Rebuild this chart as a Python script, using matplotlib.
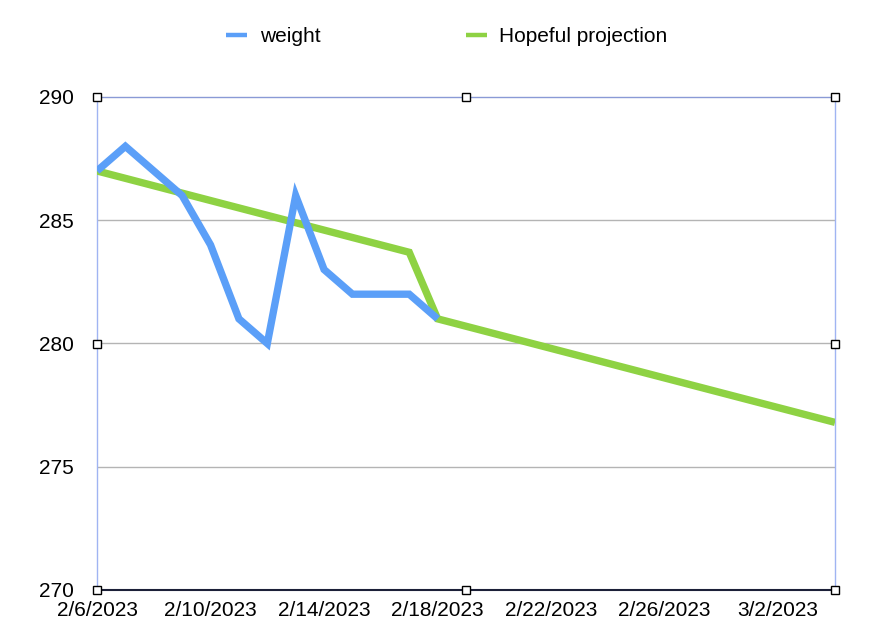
import datetime as dt
import matplotlib
matplotlib.use("Agg")
import matplotlib.pyplot as plt
import matplotlib.dates as mdates
from matplotlib.ticker import FuncFormatter

plt.rcParams["font.family"] = ["Liberation Sans", "DejaVu Sans"]

# weight readings, one per day
weight_dates = ["2023-02-06", "2023-02-07", "2023-02-08", "2023-02-09", "2023-02-10",
                "2023-02-11", "2023-02-12", "2023-02-13", "2023-02-14", "2023-02-15",
                "2023-02-16", "2023-02-17", "2023-02-18"]
weight = [287, 288, 287, 286, 284, 281, 280, 286, 283, 282, 282, 282, 281]

# hopeful projection (break points of the green line)
proj_dates = ["2023-02-06", "2023-02-17", "2023-02-18", "2023-03-04"]
projection = [287, 283.7, 281, 276.8]

tick_dates = ["2023-02-06", "2023-02-10", "2023-02-14", "2023-02-18",
              "2023-02-22", "2023-02-26", "2023-03-02"]
y_ticks = [270, 275, 280, 285, 290]

BLUE = "#5b9ff8"
GREEN = "#8ed243"


def to_dt(lst):
    return [dt.datetime.strptime(s, "%Y-%m-%d") for s in lst]


fig = plt.figure(figsize=(8.7, 6.33), dpi=100)
ax = fig.add_axes([97 / 870, 43 / 633, (835 - 97) / 870, (590 - 97) / 633])

ax.plot(to_dt(proj_dates), projection, color=GREEN, lw=5.3, solid_joinstyle="miter",
        solid_capstyle="butt", label="Hopeful projection", zorder=3)
ax.plot(to_dt(weight_dates), weight, color=BLUE, lw=5.3, solid_joinstyle="miter",
        solid_capstyle="butt", label="weight", zorder=4)

ax.set_xlim(dt.datetime(2023, 2, 6), dt.datetime(2023, 3, 4))
ax.set_ylim(270, 290)
ax.set_xticks(to_dt(tick_dates))
ax.xaxis.set_major_formatter(FuncFormatter(
    lambda v, p: (lambda d: f"{d.month}/{d.day}/{d.year}")(mdates.num2date(v))))
ax.set_yticks(y_ticks)
ax.tick_params(axis="both", length=0, labelsize=15)
ax.tick_params(axis="y", pad=17)
ax.tick_params(axis="x", pad=8)

# horizontal grid
for y in y_ticks[1:-1]:
    ax.axhline(y, color="#b4b4b4", lw=1, zorder=1)

for side in ["left", "right"]:
    ax.spines[side].set_color("#a0b4f2")
    ax.spines[side].set_linewidth(1)
ax.spines["top"].set_color("#8a9ad6")
ax.spines["top"].set_linewidth(1)
ax.spines["bottom"].set_color("#1c2038")
ax.spines["bottom"].set_linewidth(1.5)

# selection handles around the chart frame
hx = [0, 0.5, 1, 0, 1, 0, 0.5, 1]
hy = [1, 1, 1, 0.5, 0.5, 0, 0, 0]
ax.plot(hx, hy, ls="none", marker="s", ms=5.5, mfc="white", mec="black", mew=1,
        transform=ax.transAxes, clip_on=False, zorder=10)

handles, labels = ax.get_legend_handles_labels()
leg = fig.legend(handles[::-1], labels[::-1], loc="center",
                 bbox_to_anchor=(447 / 870, 1 - 37 / 633), ncol=2, frameon=False,
                 fontsize=15, handlelength=1.0, handletextpad=0.6, columnspacing=7.0)
for line in leg.get_lines():
    line.set_linewidth(3.2)

fig.savefig("out.png", dpi=100)
